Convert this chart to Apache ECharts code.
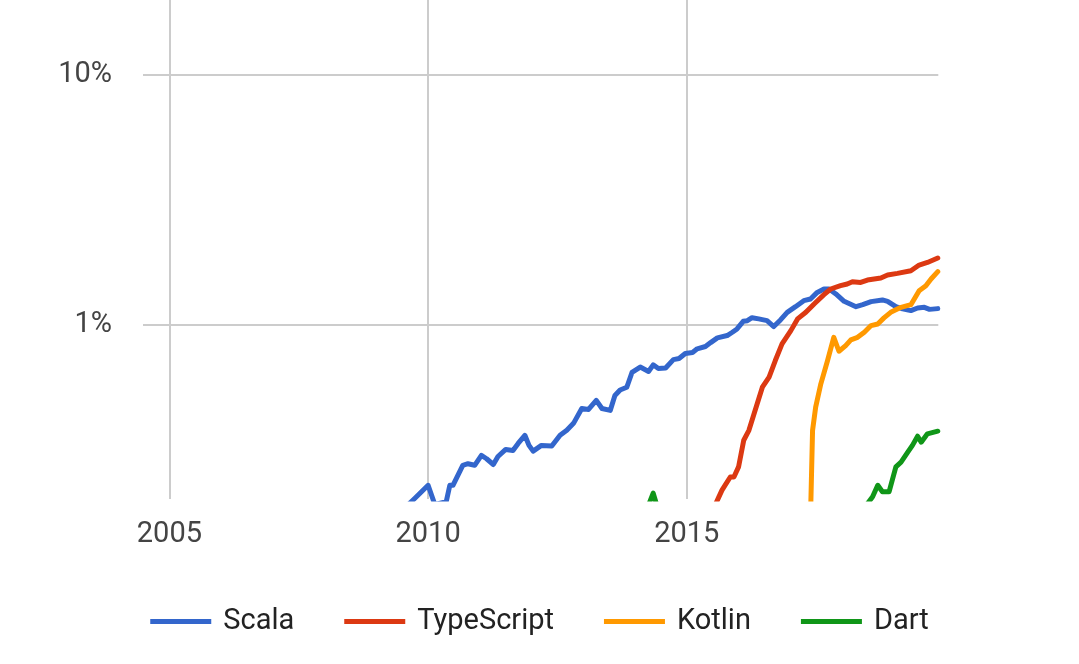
<!DOCTYPE html>
<html><head><meta charset="utf-8">
<script src="https://cdn.jsdelivr.net/npm/echarts@6/dist/echarts.min.js"></script>
<style>html,body{margin:0;padding:0;background:#fff}#c{width:1079px;height:664px}</style>
</head><body><div id="c"></div>
<script>
const seriesNames = ['Scala', 'TypeScript', 'Kotlin', 'Dart'];
const seriesColors = ['#3366cc', '#dc3912', '#ff9900', '#109618'];
const xTickYears = [2005, 2010, 2015];
const yTickPercents = [1, 10];
const xRange = [2004.49, 2019.86];
const yRange = [0.2, 20];

// Scala share (%)
const scalaYears = [2008.5,2009.2,2009.5,2009.74,2010.0,2010.13,2010.35,2010.42,2010.48,2010.67,2010.77,2010.90,2011.03,2011.13,2011.26,2011.35,2011.50,2011.64,2011.74,2011.87,2011.95,2012.03,2012.19,2012.39,2012.55,2012.68,2012.81,2012.97,2013.10,2013.25,2013.36,2013.52,2013.61,2013.71,2013.84,2013.94,2014.10,2014.26,2014.35,2014.45,2014.59,2014.74,2014.85,2014.97,2015.11,2015.20,2015.36,2015.46,2015.59,2015.78,2015.88,2015.97,2016.09,2016.17,2016.26,2016.39,2016.55,2016.68,2016.81,2016.94,2017.10,2017.26,2017.39,2017.52,2017.65,2017.75,2017.88,2018.04,2018.27,2018.40,2018.56,2018.78,2018.88,2019.04,2019.17,2019.33,2019.46,2019.59,2019.69,2019.85];
const scalaShare = [0.14,0.17,0.18,0.201,0.227,0.19,0.195,0.227,0.227,0.273,0.277,0.273,0.299,0.290,0.275,0.296,0.316,0.313,0.334,0.36,0.328,0.311,0.328,0.326,0.36,0.377,0.402,0.461,0.457,0.497,0.461,0.453,0.520,0.547,0.561,0.643,0.676,0.649,0.690,0.667,0.670,0.724,0.731,0.766,0.773,0.80,0.817,0.847,0.885,0.904,0.932,0.961,1.031,1.037,1.066,1.054,1.037,0.982,1.044,1.12,1.18,1.247,1.267,1.346,1.389,1.389,1.327,1.24,1.18,1.202,1.236,1.256,1.24,1.18,1.156,1.138,1.166,1.173,1.151,1.159];

// TypeScript share (%)
const tsYears = [2015.0,2015.5,2015.62,2015.68,2015.84,2015.91,2016.00,2016.10,2016.20,2016.36,2016.46,2016.59,2016.71,2016.84,2017.01,2017.14,2017.30,2017.46,2017.65,2017.78,2017.97,2018.10,2018.20,2018.36,2018.49,2018.75,2018.88,2019.07,2019.33,2019.49,2019.65,2019.85];
const tsShare = [0.12,0.18,0.204,0.217,0.245,0.245,0.269,0.344,0.377,0.482,0.561,0.616,0.718,0.837,0.946,1.054,1.12,1.21,1.318,1.389,1.432,1.455,1.486,1.476,1.509,1.537,1.58,1.604,1.644,1.733,1.775,1.848];

// Kotlin share (%)
const kotlinYears = [2017.0,2017.33,2017.43,2017.49,2017.59,2017.72,2017.84,2017.94,2018.07,2018.17,2018.30,2018.43,2018.56,2018.69,2018.81,2018.94,2019.14,2019.33,2019.49,2019.62,2019.72,2019.85];
const kotlinShare = [0.03,0.05,0.377,0.467,0.579,0.718,0.889,0.782,0.824,0.869,0.889,0.932,0.991,1.006,1.064,1.12,1.173,1.202,1.368,1.432,1.523,1.63];

// Dart share (%)
const dartYears = [2013.5,2014.0,2014.22,2014.35,2014.45,2014.7,2015.5,2016.5,2017.5,2018.3,2018.59,2018.69,2018.78,2018.91,2019.04,2019.14,2019.27,2019.36,2019.46,2019.53,2019.65,2019.85];
const dartShare = [0.12,0.15,0.18,0.211,0.18,0.14,0.11,0.12,0.15,0.17,0.204,0.227,0.214,0.214,0.269,0.281,0.308,0.328,0.357,0.338,0.365,0.374];

const allYears = [scalaYears, tsYears, kotlinYears, dartYears];
const allShares = [scalaShare, tsShare, kotlinShare, dartShare];

const FONT = 'Roboto';
const chart = echarts.init(document.getElementById('c'));
chart.setOption({
  animation: false,
  backgroundColor: '#fff',
  grid: { left: 143, right: 140.7, top: -1, height: 500, containLabel: false },
  legend: {
    data: seriesNames, left: 'center', top: 607, padding: 0,
    icon: 'rect', itemWidth: 61, itemHeight: 5, itemGap: 50,
    textStyle: { fontFamily: FONT, fontSize: 29, color: '#222', padding: [0, 0, 0, 7] }
  },
  xAxis: {
    type: 'value', min: xRange[0], max: xRange[1],
    axisLine: { show: false },
    axisTick: { show: false, customValues: xTickYears },
    axisLabel: { customValues: xTickYears, fontFamily: FONT, fontSize: 29, color: '#444', margin: 21,
      formatter: v => String(Math.round(v)) },
    splitLine: { show: true, lineStyle: { color: '#cccccc', width: 2 } }
  },
  yAxis: {
    type: 'value', min: Math.log10(yRange[0]), max: Math.log10(yRange[1]),
    axisLine: { show: false },
    axisTick: { show: false, customValues: yTickPercents.map(Math.log10) },
    axisLabel: { customValues: yTickPercents.map(Math.log10), fontFamily: FONT, fontSize: 29, color: '#444', margin: 31,
      formatter: v => Math.round(Math.pow(10, v)) + '%' },
    splitLine: { show: true, lineStyle: { color: '#cccccc', width: 2 } }
  },
  series: seriesNames.map((name, i) => ({
    name, type: 'line', symbol: 'none', showSymbol: false, clip: true,
    color: seriesColors[i],
    lineStyle: { width: 5, color: seriesColors[i], cap: 'round', join: 'round' },
    data: allYears[i].map((y, j) => [y, Math.log10(allShares[i][j])])
  }))
});
</script>
</body></html>
